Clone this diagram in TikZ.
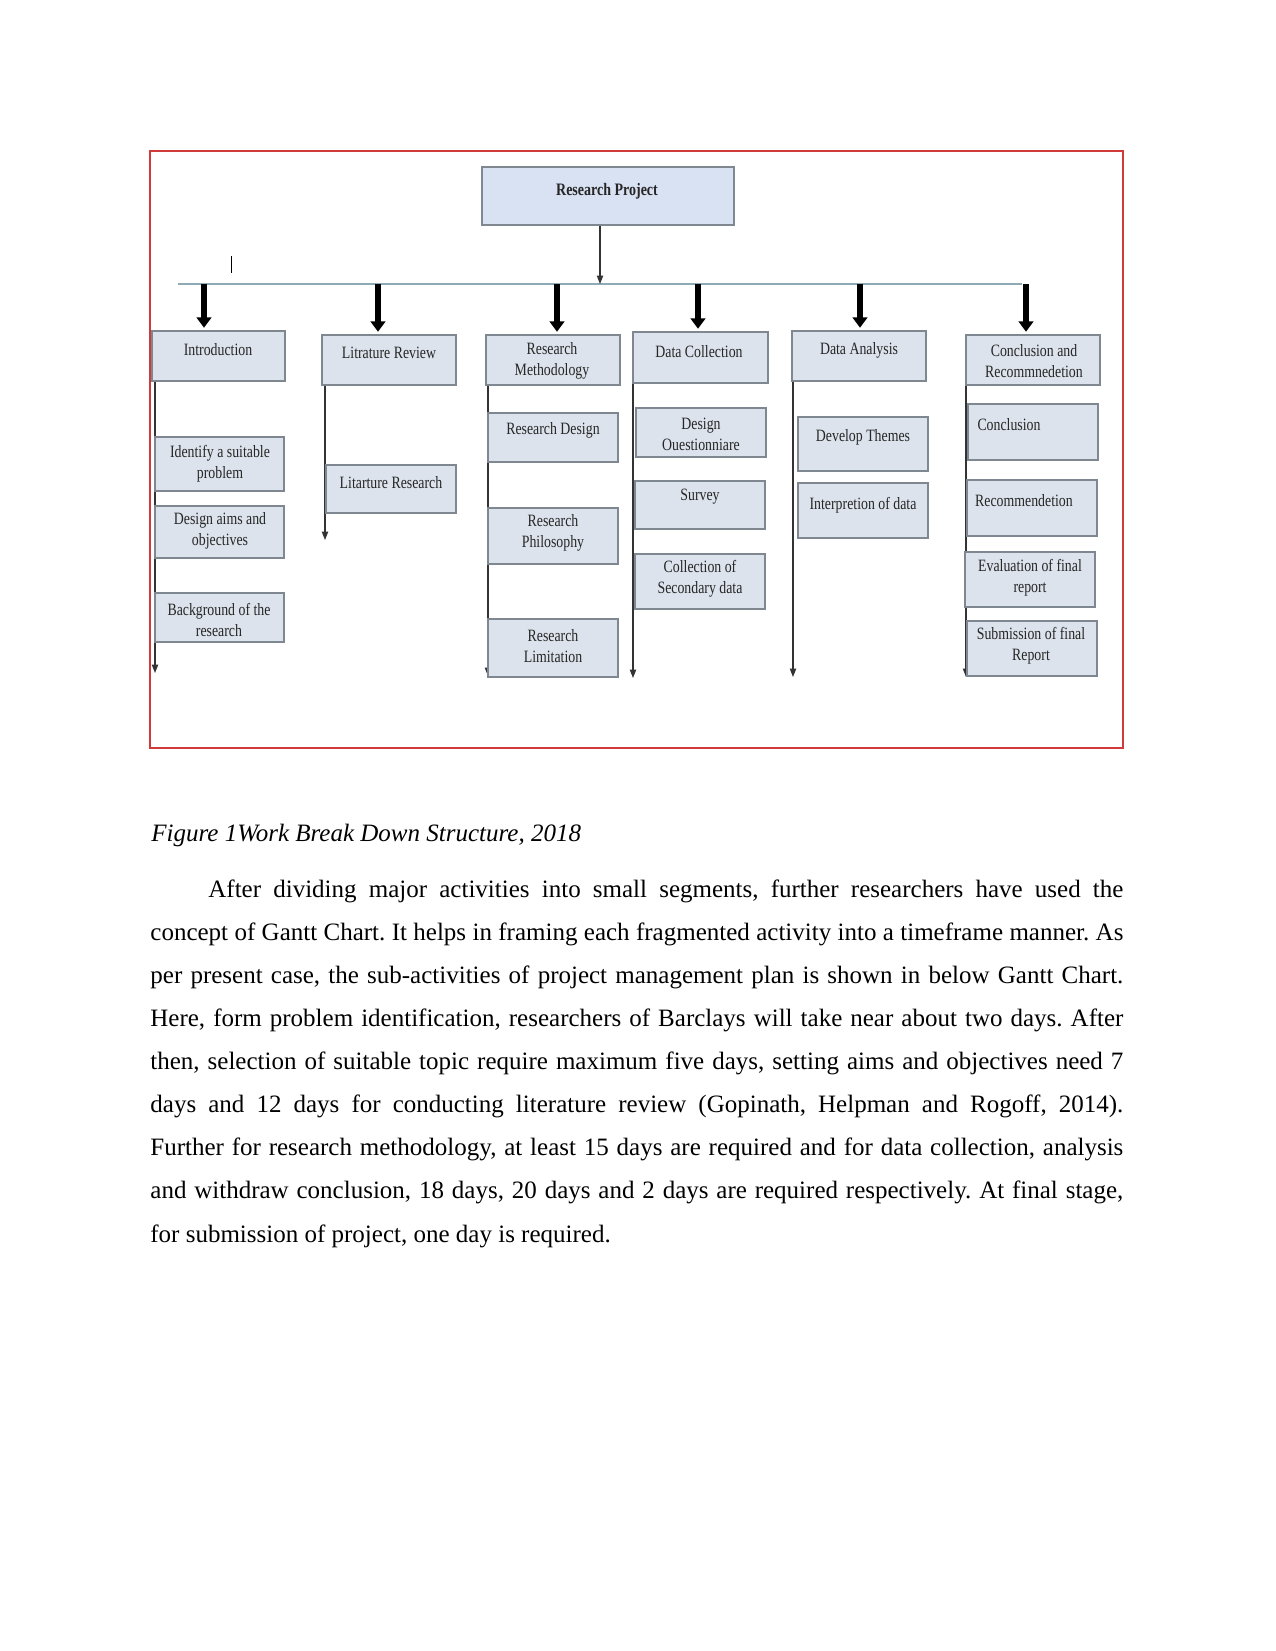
\documentclass[tikz,border=0pt]{standalone}
\usepackage{fontspec}
\setmainfont{Liberation Serif}
\newfontfamily\dfont[FakeStretch=0.8]{Liberation Serif}
\usetikzlibrary{fit,arrows.meta}
\definecolor{boxfill}{HTML}{DCE3EC}
\definecolor{rpfill}{HTML}{D9E2F3}
\definecolor{boxline}{HTML}{7F8891}
\definecolor{busline}{HTML}{8EAAB4}
\definecolor{frameline}{HTML}{D03A3A}
\definecolor{arrline}{HTML}{333333}
\newcommand\wbsbox[8]{%
  \node[wbs, fit={(#2,#3) (#4,#5)}] (#1) {};
  \node[dtxt] (#1-t) at (#6,#7) {#8};}
\frenchspacing
\begin{document}
\begin{tikzpicture}[x=0.48pt,y=-0.48pt,
  wbs/.style={draw=boxline, fill=boxfill, line width=0.7pt, inner sep=0pt},
  dtxt/.style={font=\dfont\fontsize{8.3}{10.1}\selectfont, align=center, inner sep=0pt, text=black!85},
  thinarr/.style={draw=arrline, line width=0.55pt, -{Triangle[width=3pt,length=4pt]}},
  thickarr/.style={draw=black, line width=3pt, -{Triangle[width=7pt,length=5pt]}},
  body/.style={font=\fontsize{12}{14}\selectfont, anchor=base west, inner sep=0pt}]
\useasboundingbox (0,0) rectangle (1275,1651);
\fill[white] (0,0) rectangle (1275,1651);

% frame
\draw[frameline, line width=0.75pt] (150,151) rectangle (1123,748);

% top box
\node[wbs, fill=rpfill, fit={(482,167) (734,225)}] (rp) {};
\node[dtxt, font=\dfont\bfseries\fontsize{8.4}{10.1}\selectfont] (rp-t) at (607,191) {Research Project};

% bus
\coordinate (busL) at (178,284);
\coordinate (busR) at (1022,284);
\coordinate (rpbus) at (600,284);
\draw[busline, line width=0.75pt] (busL) -- (busR);
\draw[thinarr] (rpbus |- rp.south) -- (rpbus);
\draw[black, line width=0.45pt] (231,256) -- (231,273);

% level 1 boxes
\wbsbox{intro}{152}{331}{285}{381}{218}{350}{Introduction}
\wbsbox{lit}{322}{335}{456}{385}{389}{353}{Litrature Review}
\wbsbox{rm}{486}{335}{620}{385}{552}{361}{Research\\Methodology}
\wbsbox{dc}{633}{332}{768}{383}{699}{352}{Data Collection}
\wbsbox{da}{792}{331}{926}{381}{859}{350}{Data Analysis}
\wbsbox{cr}{966}{335}{1100}{385}{1034}{361}{Conclusion and\\Recommnedetion}

% thick arrows from bus
\foreach \n/\x in {intro/204, lit/378, rm/557, dc/698, da/860, cr/1026}{
  \coordinate (b-\n) at (\x,284);
  \draw[thickarr, shorten >=1.2pt] (b-\n) -- (b-\n |- \n.north);
}

% column lines
\coordinate (intro-end) at (155,673);
\coordinate (lit-end) at (325,540);
\coordinate (rm-end) at (488,676);
\coordinate (dc-end) at (633,678);
\coordinate (da-end) at (793,677);
\coordinate (cr-end) at (966,677);
\foreach \n in {intro,lit,rm,dc,da,cr}{
  \draw[thinarr] (\n-end |- \n.south) -- (\n-end);
}

% sub boxes: introduction
\wbsbox{idp}{155}{437}{284}{491}{220}{464}{Identify a suitable\\problem}
\wbsbox{dao}{155}{506}{284}{558}{220}{531}{Design aims and\\objectives}
\wbsbox{bgr}{155}{593}{284}{642}{219}{620}{Background of the\\research}
% literature
\wbsbox{lres}{326}{465}{456}{513}{391}{483}{Litarture Research}
% methodology
\wbsbox{rdes}{488}{413}{618}{462}{553}{430}{Research Design}
\wbsbox{rphi}{488}{508}{618}{564}{553}{533}{Research\\Philosophy}
\wbsbox{rlim}{488}{619}{618}{677}{553}{646}{Research\\Limitation}
% data collection
\wbsbox{dq}{636}{408}{766}{457}{701}{434}{Design\\Ouestionniare}
\wbsbox{sur}{635}{481}{765}{529}{700}{497}{Survey}
\wbsbox{csd}{635}{554}{765}{609}{700}{579}{Collection of\\Secondary data}
% data analysis
\wbsbox{dth}{798}{417}{928}{471}{863}{437}{Develop Themes}
\wbsbox{intd}{798}{483}{928}{538}{863}{505}{Interpretion of data}
% conclusion
\wbsbox{con}{968}{404}{1098}{460}{1009}{425}{Conclusion}
\wbsbox{rec}{967}{480}{1097}{536}{1024}{501}{Recommendetion}
\wbsbox{evr}{965}{552}{1095}{607}{1030}{578}{Evaluation of final\\report}
\wbsbox{sub}{967}{621}{1097}{676}{1031}{646}{Submission of final\\Report}

% caption
\node[body, font=\itshape\fontsize{12}{14}\selectfont] (cap) at (151,841) {Figure 1Work Break Down Structure, 2018};

% body text
\node[body] (l1) at (208,897) {\makebox[439.2pt][s]{After dividing major activities into small segments, further researchers have used the}};
\node[body] (l2) at (150,940) {\makebox[467pt][s]{concept of Gantt Chart. It helps in framing each fragmented activity into a timeframe manner. As}};
\node[body] (l3) at (150,983) {\makebox[467pt][s]{per present case, the sub-activities of project management plan is shown in below Gantt Chart.}};
\node[body] (l4) at (150,1026) {\makebox[467pt][s]{Here, form problem identification, researchers of Barclays will take near about two days. After}};
\node[body] (l5) at (150,1069) {\makebox[467pt][s]{then, selection of suitable topic require maximum five days, setting aims and objectives need 7}};
\node[body] (l6) at (150,1112) {\makebox[467pt][s]{days and 12 days for conducting literature review (Gopinath, Helpman and Rogoff, 2014).}};
\node[body] (l7) at (150,1155) {\makebox[467pt][s]{Further for research methodology, at least 15 days are required and for data collection, analysis}};
\node[body] (l8) at (150,1198) {\makebox[467pt][s]{and withdraw conclusion, 18 days, 20 days and 2 days are required respectively. At final stage,}};
\node[body] (l9) at (150,1242) {for submission of project, one day is required.};
\end{tikzpicture}
\end{document}
